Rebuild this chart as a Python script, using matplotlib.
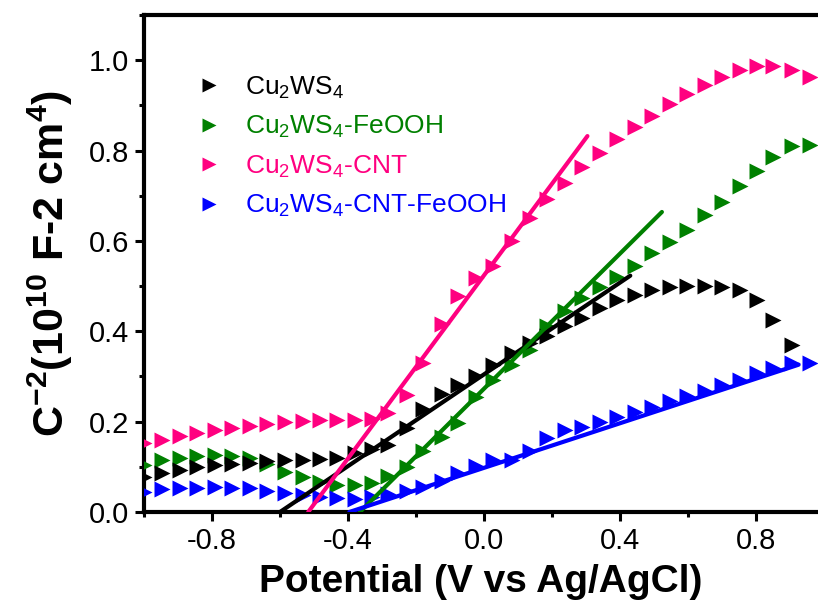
import matplotlib
matplotlib.use("Agg")
import matplotlib.pyplot as plt
from matplotlib.lines import Line2D
from matplotlib.ticker import MultipleLocator

plt.rcParams['font.family'] = ['Liberation Sans', 'DejaVu Sans']
plt.rcParams['mathtext.fontset'] = 'custom'
plt.rcParams['mathtext.rm'] = 'Liberation Sans'
plt.rcParams['mathtext.bf'] = 'Liberation Sans:bold'
plt.rcParams['mathtext.default'] = 'rm'

# potential grid (V vs Ag/AgCl)
potential = [-1.0, -0.948, -0.894, -0.845, -0.791, -0.742, -0.688, -0.639, -0.585, -0.531,
             -0.482, -0.433, -0.379, -0.330, -0.281, -0.227, -0.179, -0.124, -0.076, -0.024,
             0.027, 0.081, 0.135, 0.184, 0.238, 0.287, 0.341, 0.390, 0.444, 0.493,
             0.547, 0.596, 0.650, 0.699, 0.753, 0.802, 0.851, 0.905, 0.959]

# C^-2 values (10^10 F^-2 cm^4)
cu2ws4 = [0.078, 0.086, 0.093, 0.100, 0.104, 0.106, 0.108, 0.112, 0.116, 0.116,
          0.118, 0.120, 0.130, 0.139, 0.149, 0.186, 0.228, 0.262, 0.282, 0.302,
          0.326, 0.352, 0.374, 0.389, 0.411, 0.429, 0.452, 0.470, 0.481, 0.492,
          0.498, 0.501, 0.501, 0.498, 0.492, 0.469, 0.424, 0.370]
cu2ws4_feooh = [0.104, 0.115, 0.119, 0.124, 0.127, 0.125, 0.120, 0.106, 0.089, 0.077,
                0.066, 0.059, 0.059, 0.064, 0.080, 0.100, 0.134, 0.166, 0.197, 0.254,
                0.293, 0.326, 0.359, 0.411, 0.444, 0.474, 0.498, 0.520, 0.544, 0.574,
                0.598, 0.625, 0.657, 0.686, 0.721, 0.755, 0.786, 0.809, 0.812]
cu2ws4_cnt = [0.152, 0.160, 0.168, 0.174, 0.181, 0.185, 0.190, 0.195, 0.200, 0.202,
              0.204, 0.204, 0.204, 0.205, 0.220, 0.258, 0.330, 0.415, 0.479, 0.518,
              0.544, 0.599, 0.651, 0.693, 0.729, 0.764, 0.795, 0.825, 0.853, 0.876,
              0.902, 0.925, 0.945, 0.962, 0.979, 0.987, 0.986, 0.979, 0.962]
cu2ws4_cnt_feooh = [0.045, 0.050, 0.052, 0.054, 0.055, 0.054, 0.052, 0.047, 0.043, 0.038,
                    0.034, 0.031, 0.028, 0.033, 0.040, 0.047, 0.056, 0.069, 0.086, 0.102,
                    0.115, 0.115, 0.134, 0.163, 0.182, 0.189, 0.200, 0.211, 0.222, 0.233,
                    0.245, 0.256, 0.267, 0.282, 0.293, 0.308, 0.319, 0.330, 0.330]

# linear fits (Mott-Schottky), start/end points
fit_black_x, fit_black_y = [-0.600, 0.430], [0.0, 0.523]
fit_green_x, fit_green_y = [-0.365, 0.523], [0.0, 0.664]
fit_pink_x, fit_pink_y = [-0.517, 0.304], [0.0, 0.832]
fit_blue_x, fit_blue_y = [-0.396, 0.925], [0.0, 0.326]

labels = [r'Cu$_2$WS$_4$', r'Cu$_2$WS$_4$-FeOOH', r'Cu$_2$WS$_4$-CNT', r'Cu$_2$WS$_4$-CNT-FeOOH']
colors = ['#000000', '#008000', '#FF0080', '#0000FF']

fig = plt.figure(figsize=(8.18, 6.09), dpi=100)
ax = fig.add_axes([0.176, 0.1593, 0.824, 0.8161])

ms = 11.5
series = [cu2ws4, cu2ws4_feooh, cu2ws4_cnt, cu2ws4_cnt_feooh]
# draw green, pink, blue first so black markers sit on top
for idx in [1, 2, 3, 0]:
    y = series[idx]
    ax.plot(potential[:len(y)], y, linestyle='none', marker='>', ms=ms,
            color=colors[idx], mec='none', zorder=3 + (idx == 0))

fits = [(fit_black_x, fit_black_y), (fit_green_x, fit_green_y),
        (fit_pink_x, fit_pink_y), (fit_blue_x, fit_blue_y)]
for (fx, fy), c in zip(fits, colors):
    ax.plot(fx, fy, '-', color=c, lw=3, solid_capstyle='round', zorder=5)

ax.set_xlim(-1.0, 0.982)
ax.set_ylim(0, 1.1)
ax.xaxis.set_major_locator(MultipleLocator(0.4))
ax.xaxis.set_minor_locator(MultipleLocator(0.2))
ax.yaxis.set_major_locator(MultipleLocator(0.2))
ax.yaxis.set_minor_locator(MultipleLocator(0.1))
ax.xaxis.set_major_formatter(plt.FuncFormatter(lambda v, p: f'{v:.1f}'.replace('-0.0', '0.0')))
ax.yaxis.set_major_formatter(plt.FuncFormatter(lambda v, p: f'{v:.1f}'))

for s in ['left', 'bottom', 'top']:
    ax.spines[s].set_linewidth(3)
ax.spines['right'].set_visible(False)
ax.tick_params(which='major', direction='out', length=6.5, width=2.2, labelsize=21, pad=4)
ax.tick_params(which='minor', direction='out', length=3.6, width=2.2)

ax.set_xlabel('Potential (V vs Ag/AgCl)', fontsize=28, fontweight='bold', labelpad=7)
ax.set_ylabel(r'C$\mathbf{^{-2}}$(10$\mathbf{^{10}}$ F-2 cm$\mathbf{^{4}}$)',
              fontsize=31, fontweight='bold', labelpad=10)

handles = [Line2D([], [], linestyle='none', marker='>', ms=ms * 0.85, color=c, mec='none')
           for c in colors]
leg = ax.legend(handles, labels, loc='upper left', bbox_to_anchor=(0.083, 0.88),
                frameon=False, fontsize=19, handlelength=0.7, handletextpad=1.0,
                labelspacing=0.5, borderpad=0, borderaxespad=0, labelcolor=colors)

plt.savefig('out.png', dpi=100)
